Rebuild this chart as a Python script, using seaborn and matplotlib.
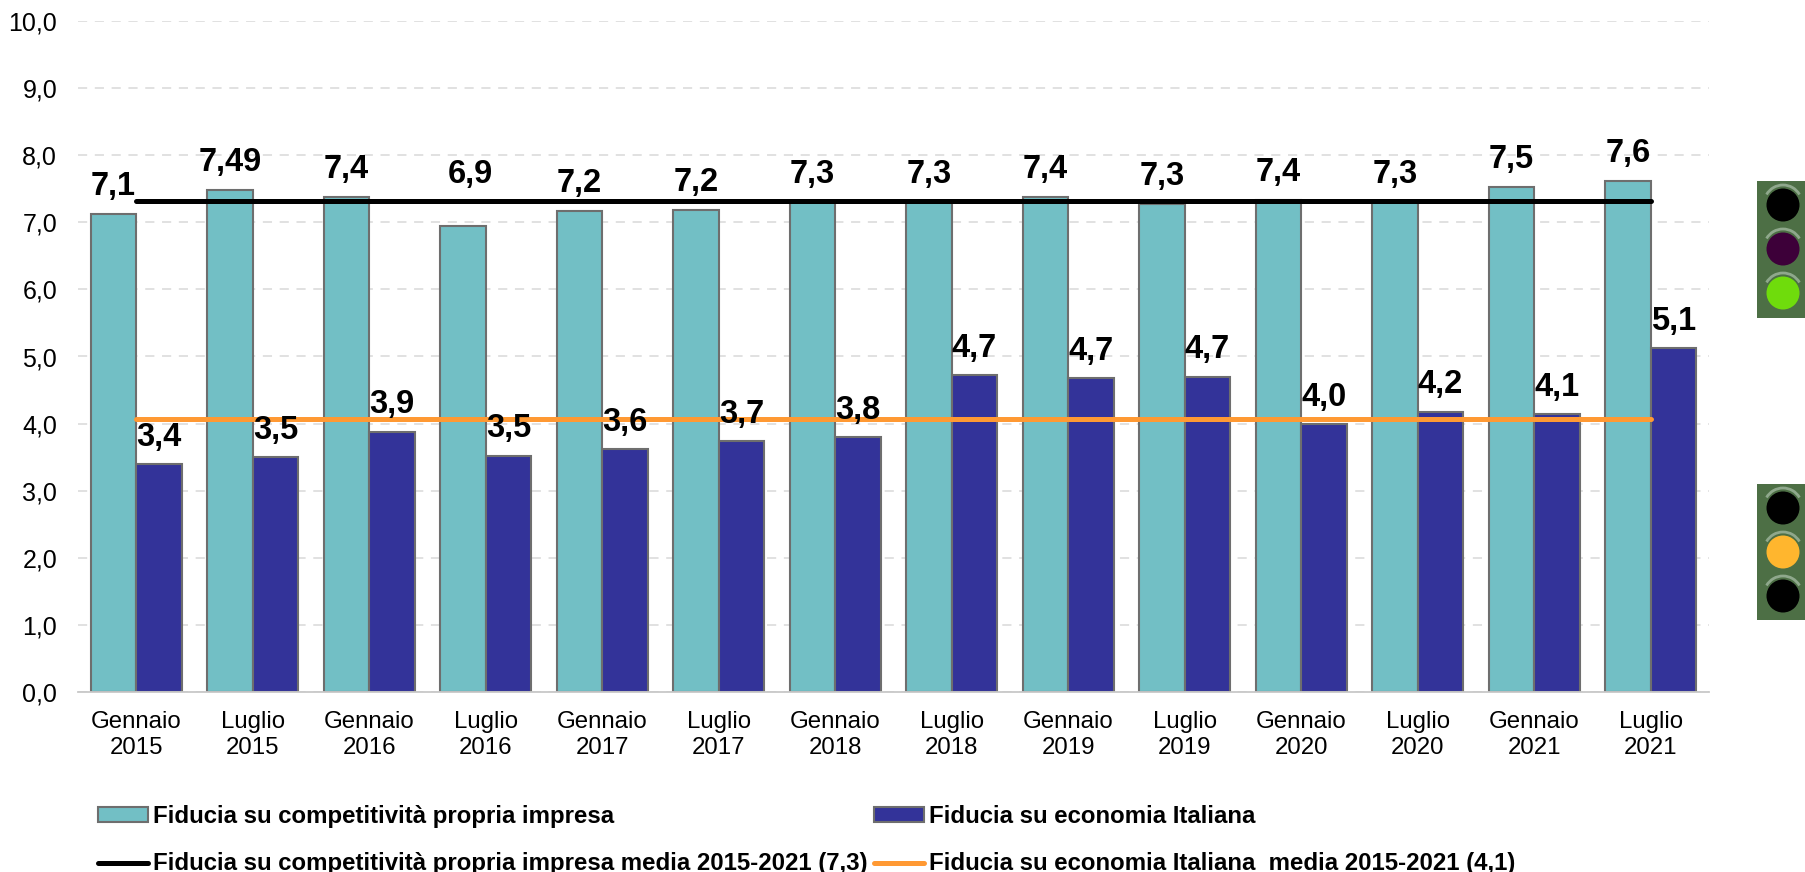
import pandas as pd
import matplotlib
matplotlib.use("Agg")
import matplotlib.pyplot as plt
from matplotlib.patches import Arc, Circle, Rectangle
import seaborn as sns

# Chart data
periodi = ["Gennaio\n2015", "Luglio\n2015", "Gennaio\n2016", "Luglio\n2016", "Gennaio\n2017",
           "Luglio\n2017", "Gennaio\n2018", "Luglio\n2018", "Gennaio\n2019", "Luglio\n2019",
           "Gennaio\n2020", "Luglio\n2020", "Gennaio\n2021", "Luglio\n2021"]
competitivita = [7.13, 7.48, 7.38, 6.95, 7.17, 7.18, 7.30, 7.30, 7.38, 7.27, 7.33, 7.30, 7.53, 7.62]
economia = [3.40, 3.50, 3.88, 3.52, 3.62, 3.74, 3.80, 4.72, 4.68, 4.70, 3.99, 4.18, 4.14, 5.12]
competitivita_labels = ["7,1", "7,49", "7,4", "6,9", "7,2", "7,2", "7,3", "7,3", "7,4", "7,3", "7,4", "7,3", "7,5", "7,6"]
economia_labels = ["3,4", "3,5", "3,9", "3,5", "3,6", "3,7", "3,8", "4,7", "4,7", "4,7", "4,0", "4,2", "4,1", "5,1"]
media_competitivita = [7.32] * len(periodi)
media_economia = [4.07] * len(periodi)
y_ticks = [0, 1, 2, 3, 4, 5, 6, 7, 8, 9, 10]

SERIE_1 = "Fiducia su competitività propria impresa"
SERIE_2 = "Fiducia su economia Italiana"
MEDIA_1 = "Fiducia su competitività propria impresa media 2015-2021 (7,3)"
MEDIA_2 = "Fiducia su economia Italiana  media 2015-2021 (4,1)"

W, H = 1806, 872

sns.set_style("white")
plt.rcParams["font.family"] = ["Liberation Sans", "DejaVu Sans"]

fig = plt.figure(figsize=(W / 100, H / 100), dpi=100)
ax = fig.add_axes([78 / W, 1 - 692 / H, (1709 - 78) / W, (692 - 21) / H])

bars = pd.DataFrame({
    "periodo": periodi * 2,
    "valore": competitivita + economia,
    "serie": [SERIE_1] * len(periodi) + [SERIE_2] * len(periodi),
})
sns.barplot(data=bars, x="periodo", y="valore", hue="serie", order=periodi,
            palette=["#72bfc5", "#333399"], width=0.78, gap=0, saturation=1,
            edgecolor="#6e6e6e", linewidth=1.5, errorbar=None, ax=ax, legend=False)

medie = pd.DataFrame({"periodo": periodi, "m1": media_competitivita, "m2": media_economia})
sns.lineplot(data=medie, x="periodo", y="m1", color="black", linewidth=3.6,
             solid_capstyle="round", errorbar=None, ax=ax, label=MEDIA_1, zorder=5)
sns.lineplot(data=medie, x="periodo", y="m2", color="#ff9933", linewidth=3.6,
             solid_capstyle="round", errorbar=None, ax=ax, label=MEDIA_2, zorder=5)

ax.set_xlim(-0.5, len(periodi) - 0.5)
ax.set_ylim(0, 10)
ax.set_xlabel("")
ax.set_ylabel("")
ax.set_yticks(y_ticks)
ax.set_yticklabels([f"{v:.1f}".replace(".", ",") for v in y_ticks])
ax.tick_params(axis="x", length=0, labelsize=17.3, labelcolor="black", pad=14)
ax.tick_params(axis="y", length=0, labelsize=18, labelcolor="black", pad=15)
for lab in ax.get_xticklabels():
    lab.set_linespacing(1.2)

ax.set_axisbelow(True)
ax.yaxis.grid(True, color="#d9d9d9", linewidth=1.1, linestyle=(0, (6, 5)))
ax.xaxis.grid(False)
for side in ["top", "right", "left"]:
    ax.spines[side].set_visible(False)
ax.spines["bottom"].set_color("#c8c8c8")
ax.spines["bottom"].set_linewidth(1.3)

# Value labels sit just above the bars, 6,9 was moved up by hand in the original
for container, labels, dy in [(ax.containers[0], competitivita_labels, 0.41),
                              (ax.containers[1], economia_labels, 0.40)]:
    for bar, text in zip(container, labels):
        extra_x, extra_y = (0.06, 0.35) if text == "6,9" else (0, 0)
        ax.text(bar.get_x() + bar.get_width() / 2 + extra_x, bar.get_height() + dy + extra_y, text,
                ha="center", va="center", fontsize=23.5, fontweight="bold", color="black", zorder=6)

# Legend, two columns filled top to bottom
line_handles, line_labels = ax.get_legend_handles_labels()
patch_1 = Rectangle((0, 0), 1, 1, facecolor="#72bfc5", edgecolor="#6e6e6e", linewidth=1.5)
patch_2 = Rectangle((0, 0), 1, 1, facecolor="#333399", edgecolor="#6e6e6e", linewidth=1.5)
if ax.get_legend():
    ax.get_legend().remove()
fig.legend([patch_1, line_handles[0], patch_2, line_handles[1]],
           [SERIE_1, line_labels[0], SERIE_2, line_labels[1]],
           ncols=2, loc="upper left", bbox_to_anchor=(98 / W, 1 - 805 / H), frameon=False,
           borderpad=0, borderaxespad=0, handlelength=2.08, handleheight=0.55, handletextpad=0.2,
           columnspacing=0.3, labelspacing=1.02, labelcolor="black",
           prop={"size": 17.25, "weight": "bold", "family": "Liberation Sans"})

# Traffic lights on the right, drawn in figure pixels
over = fig.add_axes([0, 0, 1, 1], facecolor="none")
over.set_xlim(0, W)
over.set_ylim(H, 0)
over.axis("off")


def semaforo(top, bottom, colori):
    over.add_patch(Rectangle((1757, top), W - 1757, bottom - top, facecolor="#4d6f45", edgecolor="none"))
    for i, colore in enumerate(colori):
        cy = top + 24 + i * 44
        over.add_patch(Circle((1783, cy), 16.5, facecolor=colore, edgecolor="none"))
        over.add_patch(Arc((1783, cy - 1), 38, 38, theta1=210, theta2=330, color="#8fa88c", linewidth=2))


semaforo(181, 318, ["#000000", "#3d0039", "#6fdc0c"])
semaforo(484, 620, ["#000000", "#ffb62e", "#000000"])

fig.savefig("out.png", dpi=100, facecolor="white")
